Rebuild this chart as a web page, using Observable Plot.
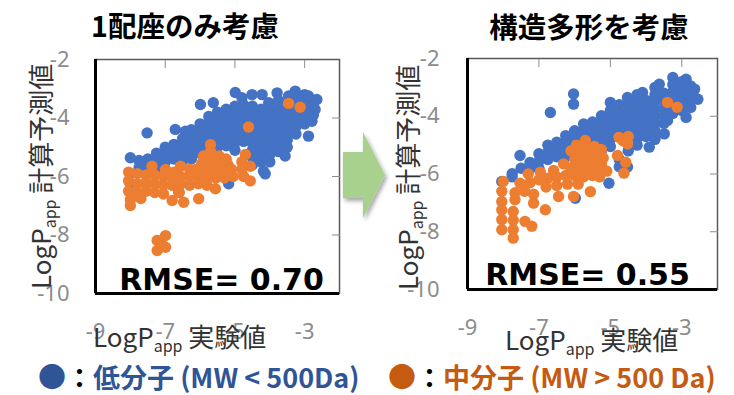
<!DOCTYPE html>
<html><head><meta charset="utf-8">
<script src="https://cdn.jsdelivr.net/npm/d3@7"></script>
<script src="https://cdn.jsdelivr.net/npm/@observablehq/plot@0.6"></script>
<style>
body{margin:0;background:#fff;}
#wrap{position:relative;width:734px;height:395px;overflow:hidden;background:#fff;}
#left,#right{position:absolute;top:40px;}
#left{left:0px}
#right{left:367px}
#overlay{position:absolute;left:0;top:0;}
</style></head><body>
<div id="wrap"><div id="left"></div><div id="right"></div><svg id="overlay" width="734" height="395"></svg></div>
<script>
const xTicks = [-9, -7, -5, -3];
const yTicks = [-10, -8, -6, -4, -2];
const xInnerTicks = [-7, -5, -3];
const yInnerTicks = [-8, -6, -4];
const xDomain = [-9, -2];
const yDomain = [-10, -2];
const panelTitles = ["1配座のみ考慮", "構造多形を考慮"];
const rmseLabels = ["RMSE= 0.70", "RMSE= 0.55"];
const xAxisTitle = ["LogP", "app", " 実験値"];
const yAxisTitle = ["LogP", "app", " 計算予測値"];
const legendLabels = ["低分子 (MW < 500Da)", "中分子 (MW > 500 Da)"];

// 1配座のみ考慮 : low MW (blue)
const blueLeft = [
[-8.0,-5.36],[-8.0,-5.9],[-8.0,-6.25],[-7.75,-5.45],[-7.75,-5.7],[-7.52,-4.51],[-7.5,-5.4],[-7.5,-5.65],
[-7.25,-5.2],[-7.25,-5.42],[-7.25,-5.7],[-7.0,-5.0],[-7.0,-5.25],[-7.0,-5.5],
[-6.71,-4.39],[-6.75,-4.9],[-6.75,-5.15],[-6.75,-5.4],[-6.61,-6.54],
[-6.42,-4.45],[-6.5,-4.7],[-6.5,-4.95],[-6.5,-5.2],[-6.5,-5.45],
[-6.25,-4.4],[-6.25,-4.65],[-6.25,-4.9],[-6.25,-5.15],[-6.25,-5.4],
[-5.99,-3.54],[-6.0,-4.2],[-6.0,-4.45],[-6.0,-4.7],[-6.0,-4.95],[-6.0,-5.2],
[-5.62,-3.48],[-5.75,-3.95],[-5.75,-4.2],[-5.75,-4.45],[-5.75,-4.7],[-5.75,-4.95],[-5.75,-5.2],
[-5.5,-3.8],[-5.5,-4.05],[-5.5,-4.3],[-5.5,-4.55],[-5.5,-4.8],[-5.5,-5.0],
[-5.25,-3.7],[-5.25,-3.95],[-5.25,-4.2],[-5.25,-4.45],[-5.25,-4.7],[-5.25,-4.95],[-5.18,-6.25],
[-4.99,-3.13],[-5.0,-3.6],[-5.0,-3.85],[-5.0,-4.1],[-5.0,-4.35],[-5.0,-4.6],[-5.0,-4.85],[-5.0,-5.1],
[-4.8,-3.31],[-4.75,-3.55],[-4.75,-3.8],[-4.75,-4.05],[-4.75,-4.3],[-4.75,-4.55],[-4.75,-4.8],
[-4.51,-3.2],[-4.5,-3.6],[-4.5,-3.85],[-4.5,-4.1],[-4.5,-4.35],[-4.5,-4.6],[-4.5,-4.85],[-4.5,-5.1],[-4.5,-5.35],[-4.5,-5.6],
[-4.22,-3.2],[-4.25,-3.7],[-4.25,-3.95],[-4.25,-4.2],[-4.25,-4.45],[-4.25,-4.7],[-4.25,-4.95],[-4.25,-5.2],[-4.25,-5.5],[-4.18,-5.82],
[-4.03,-3.48],[-4.0,-3.75],[-4.0,-4.0],[-4.0,-4.25],[-4.0,-4.5],[-4.0,-4.75],[-4.0,-5.0],[-4.0,-5.25],[-4.0,-5.5],[-4.13,-5.91],
[-3.79,-3.14],[-3.75,-3.4],[-3.75,-3.65],[-3.75,-3.9],[-3.75,-4.15],[-3.75,-4.4],[-3.75,-4.65],[-3.75,-4.9],[-3.75,-5.15],
[-3.46,-3.25],[-3.5,-3.75],[-3.5,-4.0],[-3.5,-4.25],[-3.5,-4.5],[-3.5,-4.75],[-3.5,-5.0],[-3.56,-5.3],
[-3.27,-3.08],[-3.25,-3.3],[-3.25,-3.55],[-3.25,-3.8],[-3.25,-4.05],[-3.25,-4.3],[-3.25,-4.55],
[-3.0,-3.2],[-3.0,-3.45],[-3.0,-3.7],[-3.0,-3.95],[-3.0,-4.2],
[-2.89,-3.25],[-2.75,-3.55],[-2.7,-3.71],[-2.65,-3.37],[-2.79,-4.11],[-2.89,-4.62],[-2.75,-3.9]
];
// 1配座のみ考慮 : mid MW (orange)
const orangeLeft = [
[-3.46,-3.50],[-3.13,-3.63],[-4.61,-4.31],
[-5.70,-4.91],[-5.70,-5.15],[-5.9,-5.3],[-5.65,-5.35],[-5.45,-5.3],[-5.25,-5.4],[-5.95,-5.55],[-5.7,-5.6],[-5.45,-5.55],[-5.2,-5.6],
[-6.1,-5.75],[-5.85,-5.8],[-5.6,-5.8],[-5.35,-5.8],[-5.1,-5.75],
[-4.70,-5.25],[-4.80,-5.5],[-4.56,-5.65],[-4.8,-5.75],
[-7.38,-5.65],[-6.99,-5.76],[-6.56,-5.65],[-6.3,-5.75],[-6.75,-5.85],
[-8.05,-5.85],[-7.8,-5.9],[-7.55,-5.95],[-7.3,-5.95],[-7.05,-6.0],[-6.8,-6.05],[-6.55,-6.0],[-6.3,-6.0],[-6.05,-6.0],[-5.8,-6.05],[-5.55,-6.05],[-5.3,-6.05],[-5.05,-6.0],[-4.56,-6.15],[-4.75,-6.0],
[-8.05,-6.15],[-7.8,-6.25],[-7.55,-6.2],[-7.3,-6.25],[-7.05,-6.3],[-6.8,-6.3],[-6.55,-6.25],[-6.3,-6.3],[-6.05,-6.25],[-5.8,-6.3],[-5.56,-6.42],
[-8.05,-6.5],[-7.8,-6.55],[-7.55,-6.5],[-7.3,-6.55],[-7.05,-6.6],[-6.8,-6.82],[-6.47,-6.88],[-6.04,-6.76],[-6.6,-6.55],
[-8.0,-6.8],[-8.0,-6.99],[-7.7,-6.75],
[-6.99,-8.02],[-7.23,-8.19],[-7.12,-8.3],[-7.23,-8.53],[-6.99,-8.42]
];
// 構造多形を考慮 : low MW (blue)
const blueRight = [
[-8.04,-6.26],[-7.75,-5.99],[-7.75,-6.1],[-7.53,-5.36],[-7.5,-5.8],[-7.25,-5.6],[-7.25,-5.82],
[-7.0,-5.3],[-7.0,-5.55],[-7.0,-5.8],[-6.75,-5.0],[-6.75,-5.25],[-6.75,-5.5],[-6.68,-3.87],
[-6.5,-4.9],[-6.5,-5.15],[-6.5,-5.4],[-6.25,-4.67],[-6.25,-4.9],[-6.25,-5.15],[-6.25,-5.4],
[-6.03,-3.23],[-6.03,-3.58],[-6.0,-4.5],[-6.0,-4.75],[-6.0,-5.0],[-6.0,-5.25],[-5.98,-6.84],
[-5.75,-4.27],[-5.75,-4.5],[-5.75,-4.75],[-5.75,-5.0],[-5.75,-5.25],
[-5.5,-4.2],[-5.5,-4.45],[-5.5,-4.7],[-5.5,-4.95],[-5.5,-5.2],
[-5.25,-3.98],[-5.25,-4.2],[-5.25,-4.45],[-5.25,-4.7],[-5.25,-4.95],[-5.25,-5.2],
[-5.0,-3.52],[-5.0,-3.8],[-5.0,-4.05],[-5.0,-4.3],[-5.0,-4.55],[-5.0,-4.8],[-5.0,-5.05],[-5.04,-6.32],
[-4.75,-3.6],[-4.75,-3.85],[-4.75,-4.1],[-4.75,-4.35],[-4.75,-4.6],[-4.75,-5.5],[-4.75,-5.75],
[-4.52,-3.35],[-4.5,-3.6],[-4.5,-3.85],[-4.5,-4.1],[-4.5,-4.35],[-4.5,-4.6],[-4.5,-5.2],[-4.52,-5.76],
[-4.25,-3.25],[-4.25,-3.5],[-4.25,-3.75],[-4.25,-4.0],[-4.25,-4.25],[-4.25,-4.5],[-4.25,-4.75],[-4.25,-5.0],
[-4.1,-3.18],[-4.0,-3.45],[-4.0,-3.7],[-4.0,-3.95],[-4.0,-4.2],[-4.0,-4.45],[-4.0,-4.7],[-3.91,-5.07],
[-3.75,-3.0],[-3.75,-3.25],[-3.75,-3.5],[-3.75,-3.75],[-3.75,-4.0],[-3.75,-4.25],[-3.75,-4.5],[-3.75,-4.8],
[-3.63,-2.89],[-3.5,-3.2],[-3.5,-3.45],[-3.5,-3.75],[-3.5,-4.0],[-3.5,-4.25],[-3.49,-4.61],
[-3.25,-2.66],[-3.25,-2.9],[-3.25,-3.15],[-3.25,-3.4],[-3.25,-3.65],[-3.25,-3.9],[-3.4,-4.15],
[-3.0,-2.8],[-3.0,-3.05],[-3.0,-3.3],[-3.0,-3.55],[-3.0,-3.8],
[-2.88,-2.72],[-2.75,-2.95],[-2.75,-3.2],[-2.75,-3.45],[-2.75,-3.7],[-2.88,-4.04],[-2.64,-3.06],[-2.55,-3.41]
];
// 構造多形を考慮 : mid MW (orange)
const orangeRight = [
[-3.40,-3.52],[-3.13,-3.69],
[-4.76,-4.73],[-4.52,-4.96],[-4.65,-4.85],[-4.5,-4.7],
[-5.70,-4.84],[-5.95,-5.0],[-5.7,-5.1],[-5.45,-5.05],[-5.25,-5.15],[-6.1,-5.2],[-5.85,-5.3],[-5.6,-5.35],[-5.35,-5.35],[-5.2,-5.45],
[-6.0,-5.5],[-5.75,-5.55],[-5.5,-5.6],[-5.25,-5.65],
[-4.80,-5.36],[-4.57,-5.59],
[-6.31,-5.65],[-6.1,-5.8],[-5.85,-5.8],[-5.6,-5.85],[-5.35,-5.85],[-5.1,-5.9],[-4.62,-5.97],
[-6.59,-5.88],[-6.96,-5.94],[-7.3,-6.0],
[-8.0,-6.26],[-7.53,-6.32],[-7.25,-6.3],[-7.0,-6.2],[-6.75,-6.15],[-6.5,-6.1],[-6.25,-6.05],[-6.0,-6.05],[-5.75,-6.1],[-5.5,-6.05],[-5.3,-6.1],
[-6.8,-6.45],[-6.5,-6.4],[-6.2,-6.35],[-5.9,-6.35],[-5.56,-6.61],[-6.03,-6.78],[-6.45,-6.78],
[-8.04,-6.6],[-7.67,-6.65],[-7.4,-6.6],[-7.15,-6.7],[-7.67,-6.89],[-7.15,-7.01],[-6.82,-7.24],
[-8.04,-6.95],[-8.04,-7.25],[-8.04,-7.58],[-8.04,-7.93],[-7.72,-7.3],[-7.72,-7.6],[-7.72,-7.93],[-7.72,-8.22],[-7.39,-7.64],[-7.2,-7.81]
];

const blueColor = "#4472c4";
const orangeColor = "#ed7d31";

function panel(blue, orange, rmse, m) {
  return Plot.plot({
    width: 367, height: 320,
    marginLeft: m.l, marginRight: m.r, marginTop: m.t, marginBottom: m.b,
    style: {fontFamily: "'Noto Sans', sans-serif", fontSize: "22px", background: "transparent", overflow: "visible"},
    x: {domain: xDomain},
    y: {domain: yDomain},
    marks: [
      Plot.dot(blue, {x: d => d[0], y: d => d[1], r: 5.7, fill: blueColor}),
      Plot.dot(orange, {x: d => d[0], y: d => d[1], r: 5.7, fill: orangeColor}),
      Plot.frame({stroke: "#595959", strokeWidth: 1.5}),
      Plot.ruleX([xDomain[0]], {stroke: "#000", strokeWidth: 3}),
      Plot.ruleY([yDomain[0]], {stroke: "#000", strokeWidth: 3}),
      Plot.axisX(xTicks, {anchor: "bottom", tickSize: 0, tickPadding: 30, fontSize: 22, color: "#8c8c8c", label: null, tickFormat: d => String(d)}),
      Plot.axisY(yTicks, {anchor: "left", tickSize: 0, tickPadding: m.pad, fontSize: 22, color: "#8c8c8c", label: null, tickFormat: d => String(d)}),
      Plot.axisX(xInnerTicks, {anchor: "top", tickSize: -8, tickFormat: () => "", stroke: "#8c8c8c", label: null}),
      Plot.axisY(yInnerTicks, {anchor: "right", tickSize: -8, tickFormat: () => "", stroke: "#8c8c8c", label: null}),
      Plot.text([rmse], {frameAnchor: "bottom", text: d => d, fontFamily: "'DejaVu Sans', sans-serif", fontWeight: "bold", fontSize: 30, fill: "#000", lineAnchor: "bottom", dy: m.dy, dx: m.dx})
    ]
  });
}

document.getElementById("left").append(panel(blueLeft, orangeLeft, rmseLabels[0], {l: 95, r: 28, t: 19, b: 67, pad: 26, dx: 4, dy: -4}));
document.getElementById("right").append(panel(blueRight, orangeRight, rmseLabels[1], {l: 100, r: 17, t: 18, b: 71, pad: 28, dx: -5, dy: -5}));

// overlay: titles, axis titles, arrow, legend
const svg = d3.select("#overlay");
const cjk = "'Noto Sans CJK JP', 'Noto Sans', sans-serif";
const defs = svg.append("defs");
const f = defs.append("filter").attr("id", "sh").attr("x", "-20%").attr("y", "-20%").attr("width", "150%").attr("height", "150%");
f.append("feDropShadow").attr("dx", 2).attr("dy", 3).attr("stdDeviation", 2).attr("flood-color", "#000").attr("flood-opacity", 0.35);

svg.append("polygon")
  .attr("points", "343,152 363,152 363,132 385,175 363,218 363,198 343,198")
  .attr("fill", "#a9d18e").attr("filter", "url(#sh)");

[[185, 37], [589, 38]].forEach(([x, y], i) => {
  svg.append("text").attr("x", x).attr("y", y).attr("text-anchor", "middle")
    .attr("font-family", cjk).attr("font-weight", "bold").attr("font-size", 28.5).attr("fill", "#000")
    .text(panelTitles[i]);
});

function titleText(g, parts) {
  g.attr("font-family", cjk).attr("font-size", 26).attr("fill", "#333");
  g.append("tspan").text(parts[0]);
  g.append("tspan").attr("font-size", 16).attr("dy", 5).text(parts[1]);
  g.append("tspan").attr("dy", -5).text(parts[2]);
}
titleText(svg.append("text").attr("x", 93).attr("y", 347), xAxisTitle);
titleText(svg.append("text").attr("x", 505).attr("y", 350), xAxisTitle);
titleText(svg.append("text").attr("transform", "translate(51,289) rotate(-90)"), yAxisTitle);
titleText(svg.append("text").attr("transform", "translate(418,290) rotate(-90)"), yAxisTitle);

[[38, "#2f5597", "#2f5597"], [388, "#c55a11", "#c55a11"]].forEach(([x, dotC, txtC], i) => {
  const t = svg.append("text").attr("x", x).attr("y", 388)
    .attr("font-family", cjk).attr("font-weight", "bold").attr("font-size", 27);
  t.append("tspan").attr("fill", dotC).attr("font-size", 28).text("●");
  t.append("tspan").attr("fill", "#000").text("：");
  t.append("tspan").attr("fill", txtC).text(legendLabels[i]);
});
</script>
</body></html>
